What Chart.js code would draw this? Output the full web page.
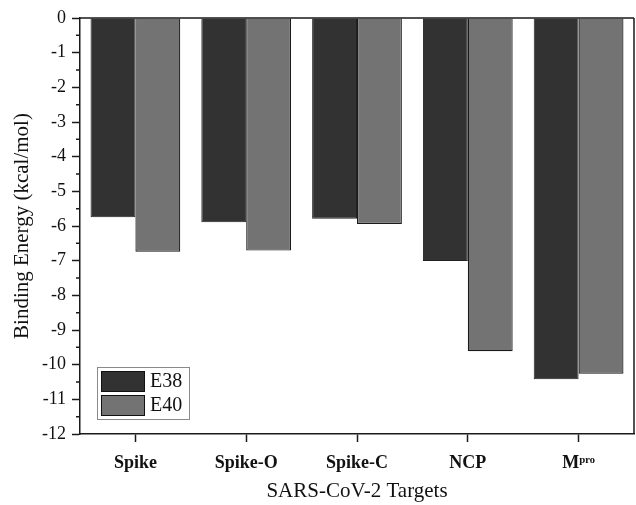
<!DOCTYPE html>
<html><head><meta charset="utf-8">
<script src="https://cdn.jsdelivr.net/npm/chart.js@4"></script>
<style>html,body{margin:0;padding:0;background:#fff}</style>
</head><body>
<canvas id="c" width="636" height="505"></canvas>
<script>
const categories = ['Spike', 'Spike-O', 'Spike-C', 'NCP', 'Mᵖʳᵒ'];
const seriesNames = ['E38', 'E40'];
const e38Values = [-5.75, -5.89, -5.79, -7.01, -10.42];
const e40Values = [-6.74, -6.71, -5.94, -9.61, -10.26];
const yTickValues = [0, -1, -2, -3, -4, -5, -6, -7, -8, -9, -10, -11, -12];
const yMinorTicks = [-0.5, -1.5, -2.5, -3.5, -4.5, -5.5, -6.5, -7.5, -8.5, -9.5, -10.5, -11.5];

const AXIS = '#1a1a1a';
const SERIF = '"Liberation Serif", "Times New Roman", serif';

const framePlugin = {
  id: 'frame',
  afterDraw(chart) {
    const ctx = chart.ctx, a = chart.chartArea;
    const ys = chart.scales.y;
    ctx.save();
    ctx.strokeStyle = AXIS;
    ctx.lineWidth = 1.5;
    ctx.beginPath();
    ctx.moveTo(a.left, a.top); ctx.lineTo(a.right, a.top);
    ctx.moveTo(a.right, a.top); ctx.lineTo(a.right, a.bottom);
    ctx.stroke();
    // minor ticks
    ctx.beginPath();
    yMinorTicks.forEach(v => {
      const y = ys.getPixelForValue(v);
      ctx.moveTo(a.left - 4, y); ctx.lineTo(a.left, y);
    });
    ctx.stroke();
    // legend
    const lx = a.left + 17, ly = a.bottom - 67, lw = 92, lh = 52;
    ctx.fillStyle = '#fff';
    ctx.fillRect(lx, ly, lw, lh);
    ctx.strokeStyle = '#8a8a8a';
    ctx.lineWidth = 1;
    ctx.strokeRect(lx + 0.5, ly + 0.5, lw, lh);
    chart.data.datasets.forEach((ds, i) => {
      const sy = ly + 4 + i * 24;
      ctx.fillStyle = ds.backgroundColor;
      ctx.fillRect(lx + 4, sy, 44, 21);
      ctx.strokeStyle = '#111';
      ctx.lineWidth = 1;
      ctx.strokeRect(lx + 4.5, sy + 0.5, 43, 20);
      ctx.fillStyle = '#111';
      ctx.font = '20px ' + SERIF;
      ctx.textBaseline = 'middle';
      ctx.textAlign = 'left';
      ctx.fillText(ds.label, lx + 53, sy + 11);
    });
    ctx.restore();
  }
};

new Chart(document.getElementById('c'), {
  type: 'bar',
  data: {
    labels: categories,
    datasets: [
      { label: seriesNames[0], data: e38Values, backgroundColor: '#323232', borderColor: '#222', borderWidth: 1 },
      { label: seriesNames[1], data: e40Values, backgroundColor: '#737373', borderColor: '#1a1a1a', borderWidth: 1.2 }
    ]
  },
  options: {
    responsive: false,
    animation: false,
    layout: { padding: { left: 0, right: 2, top: 18, bottom: 0 } },
    datasets: { bar: { categoryPercentage: 0.81, barPercentage: 1.0 } },
    plugins: { legend: { display: false }, tooltip: { enabled: false } },
    scales: {
      x: {
        offset: true,
        afterFit(s) { s.height = 71; },
        grid: { offset: false, drawOnChartArea: false, drawTicks: true, tickLength: 8, tickColor: AXIS, tickWidth: 1.5 },
        border: { display: true, color: AXIS, width: 1.5 },
        ticks: { color: '#111', font: { family: SERIF, size: 18, weight: 'bold' }, padding: 11, maxRotation: 0 },
        title: { display: true, text: 'SARS-CoV-2 Targets', color: '#111', font: { family: SERIF, size: 21 }, padding: { top: 0, bottom: 1 } }
      },
      y: {
        min: -12, max: 0,
        afterFit(s) { s.width = 80; },
        afterBuildTicks(s) { s.ticks = yTickValues.map(v => ({ value: v })); },
        grid: { drawOnChartArea: false, drawTicks: true, tickLength: 8, tickColor: AXIS, tickWidth: 1.5 },
        border: { display: true, color: AXIS, width: 1.5 },
        ticks: { color: '#111', font: { family: SERIF, size: 18 }, padding: 6 },
        title: { display: true, text: 'Binding Energy (kcal/mol)', color: '#111', font: { family: SERIF, size: 21 }, padding: { top: 10, bottom: 0 } }
      }
    }
  },
  plugins: [framePlugin]
});
</script>
</body></html>
